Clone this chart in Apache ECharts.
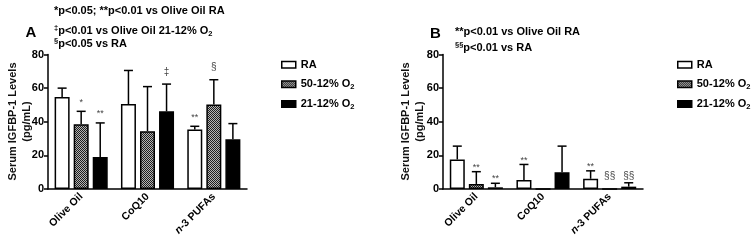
<!DOCTYPE html>
<html>
<head>
<meta charset="utf-8">
<script src="https://cdn.jsdelivr.net/npm/echarts@6/dist/echarts.min.js"></script>
<style>
html,body{margin:0;padding:0;background:#fff;}
#chart{width:753px;height:241px;}
</style>
</head>
<body>
<div id="chart"></div>
<script>
// ---------- DATA ----------
const categories = ['Olive Oil', 'CoQ10', 'n-3 PUFAs'];
const seriesNames = ['RA', '50-12% O2', '21-12% O2'];
const yTicks = [0, 20, 40, 60, 80];

// Panel A
const aRA = [54.7, 50.5, 35.4];
const aRAErr = [5.3, 20.0, 1.9];
const a50 = [38.5, 34.4, 50.2];
const a50Err = [7.7, 26.5, 14.8];
const a21 = [19.1, 46.2, 29.6];
const a21Err = [20.2, 16.2, 9.3];
const aRASig = ['', '', '**'];
const a50Sig = ['*', '', '§'];
const a21Sig = ['**', '‡', ''];

// Panel B
const bRA = [17.6, 5.3, 6.1];
const bRAErr = [7.9, 9.3, 4.7];
const b50 = [3.0, 0, 0];
const b50Err = [7.3, 0, 0];
const b21 = [1.0, 10.0, 1.4];
const b21Err = [2.4, 15.5, 2.3];
const bRASig = ['', '**', '**'];
const b50Sig = ['**', '', '§§'];
const b21Sig = ['**', '', '§§'];

// ---------- STYLE ----------
const FONT = 'Liberation Sans, Arial, sans-serif';
const BAR_W = 15;
const BAR_GAP_PX = 4.05;

function makePattern() {
  const c = document.createElement('canvas');
  c.width = 2; c.height = 2;
  const ctx = c.getContext('2d');
  ctx.fillStyle = '#b4b4b4'; ctx.fillRect(0, 0, 2, 2);
  ctx.fillStyle = '#1e1e1e'; ctx.fillRect(0, 0, 1, 1); ctx.fillRect(1, 1, 1, 1);
  return c;
}
const pattern = { image: makePattern(), repeat: 'repeat' };
const fills = ['#ffffff', pattern, '#000000'];

const chart = echarts.init(document.getElementById('chart'), null, { renderer: 'canvas' });

const grids = [
  { left: 48, top: 54.5, width: 199, height: 134.5, containLabel: false, outerBoundsMode: 'none' },
  { left: 443, top: 54.5, width: 200, height: 134.5, containLabel: false, outerBoundsMode: 'none' }
];

function xAxis(gi) {
  return {
    type: 'category', gridIndex: gi, data: categories,
    axisLine: { lineStyle: { color: '#000', width: 1.5 } },
    axisTick: { alignWithLabel: true, length: 4, lineStyle: { color: '#000', width: 1.5 } },
    axisLabel: {
      rotate: 45, margin: 6, color: '#000', fontFamily: FONT, fontWeight: 'bold', fontSize: 10.5,
      formatter: v => v.startsWith('n-') ? '{i|n}{b|' + v.slice(1) + '}' : '{b|' + v + '}',
      rich: {
        b: { fontFamily: FONT, fontWeight: 'bold', fontSize: 10.5, color: '#000' },
        i: { fontFamily: FONT, fontWeight: 'bold', fontStyle: 'italic', fontSize: 10.5, color: '#000' }
      }
    },
    splitLine: { show: false }
  };
}
function yAxis(gi) {
  return {
    type: 'value', gridIndex: gi, min: yTicks[0], max: yTicks[yTicks.length - 1],
    interval: yTicks[1] - yTicks[0],
    axisLine: { show: true, lineStyle: { color: '#000', width: 1.5 } },
    axisTick: { show: true, length: 4, lineStyle: { color: '#000', width: 1.5 } },
    axisLabel: { color: '#000', fontFamily: FONT, fontWeight: 'bold', fontSize: 11, margin: 4 },
    splitLine: { show: false }
  };
}

function barSeries(gi, name, idx, vals) {
  return {
    type: 'bar', name: name, xAxisIndex: gi, yAxisIndex: gi, data: vals,
    barWidth: BAR_W, barGap: (BAR_GAP_PX / BAR_W * 100).toFixed(1) + '%',
    itemStyle: { color: fills[idx], borderColor: '#000', borderWidth: 1.5 },
    emphasis: { disabled: true }, animation: false, z: 2
  };
}

function errSeries(gi, idx, vals, errs, sigs, sigGap) {
  const data = vals.map((v, i) => [i, v, errs[i], sigs[i]]);
  return {
    type: 'custom', xAxisIndex: gi, yAxisIndex: gi, data: data, animation: false, silent: true, z: 3,
    renderItem: function (params, api) {
      const cat = api.value(0), v = api.value(1), e = api.value(2);
      const sig = data[params.dataIndex][3];
      const off = (idx - 1) * (BAR_W + BAR_GAP_PX);
      const pBase = api.coord([cat, v]);
      const pTop = api.coord([cat, v + e]);
      const x = pBase[0] + off;
      const children = [];
      if (e > 0) {
        children.push({ type: 'line', shape: { x1: x, y1: pBase[1], x2: x, y2: pTop[1] },
          style: { stroke: '#000', lineWidth: 1.5 } });
        children.push({ type: 'line', shape: { x1: x - 4.5, y1: pTop[1], x2: x + 4.5, y2: pTop[1] },
          style: { stroke: '#000', lineWidth: 1.5 } });
      }
      if (sig) {
        const anchor = api.coord([cat, Math.max(v + e, 3.7)]);
        const isStar = sig.indexOf('*') >= 0;
        children.push({ type: 'text', x: x, y: anchor[1] - sigGap + (isStar ? 3 : 0),
          style: { text: sig, fill: '#444', font: (isStar ? 'normal 9px ' : 'normal 10px ') + FONT,
            textAlign: 'center', textVerticalAlign: 'middle' } });
      }
      return { type: 'group', children: children };
    }
  };
}

const series = [
  barSeries(0, seriesNames[0], 0, aRA), barSeries(0, seriesNames[1], 1, a50), barSeries(0, seriesNames[2], 2, a21),
  barSeries(1, seriesNames[0], 0, bRA), barSeries(1, seriesNames[1], 1, b50), barSeries(1, seriesNames[2], 2, b21),
  errSeries(0, 0, aRA, aRAErr, aRASig, 12), errSeries(0, 1, a50, a50Err, a50Sig, 12), errSeries(0, 2, a21, a21Err, a21Sig, 12),
  errSeries(1, 0, bRA, bRAErr, bRASig, 7), errSeries(1, 1, b50, b50Err, b50Sig, 7), errSeries(1, 2, b21, b21Err, b21Sig, 7)
];

const legendRich = {
  n: { fontFamily: FONT, fontWeight: 'bold', fontSize: 11, color: '#000' },
  s: { fontFamily: FONT, fontWeight: 'bold', fontSize: 7.5, color: '#000', padding: [6, 0, 0, 0] }
};
function legend(left) {
  return {
    left: left, top: 53, orient: 'vertical', itemWidth: 14, itemHeight: 6.5, itemGap: 6,
    icon: 'rect', selectedMode: false,
    data: seriesNames,
    textStyle: { fontFamily: FONT, fontWeight: 'bold', fontSize: 11, color: '#000', lineHeight: 13.5, rich: legendRich },
    formatter: n => n.endsWith('O2') ? '{n|' + n.slice(0, -1) + '}{s|2}' : '{n|' + n + '}',
    itemStyle: { borderColor: '#000', borderWidth: 1.5 }
  };
}

const noteRich = {
  n: { fontFamily: FONT, fontWeight: 'bold', fontSize: 11, color: '#111' },
  sup: { fontFamily: FONT, fontWeight: 'bold', fontSize: 7.5, color: '#111', padding: [0, 0, 6, 0] },
  sub: { fontFamily: FONT, fontWeight: 'bold', fontSize: 7.5, color: '#111', padding: [6, 0, 0, 0] }
};
function note(x, y, text) {
  return { type: 'text', x: x, y: y, style: { text: text, rich: noteRich, textVerticalAlign: 'middle' } };
}
function ytitle(x, y) {
  return { type: 'text', x: x, y: y, rotation: Math.PI / 2,
    style: { text: 'Serum IGFBP-1 Levels\n(pg/mL)', fill: '#111', font: 'bold 11px ' + FONT,
      textAlign: 'center', textVerticalAlign: 'middle', lineHeight: 14 } };
}

chart.setOption({
  animation: false,
  grid: grids,
  xAxis: [xAxis(0), xAxis(1)],
  yAxis: [yAxis(0), yAxis(1)],
  legend: [legend(276), legend(672)],
  series: series,
  graphic: [
    { type: 'text', x: 31, y: 32.5, style: { text: 'A', font: 'bold 15px ' + FONT, fill: '#000', textAlign: 'center', textVerticalAlign: 'middle' } },
    { type: 'text', x: 435.5, y: 34, style: { text: 'B', font: 'bold 15px ' + FONT, fill: '#000', textAlign: 'center', textVerticalAlign: 'middle' } },
    note(54, 10.5, '{n|*p<0.05; **p<0.01 vs Olive Oil RA}'),
    note(54, 31, '{sup|‡}{n|p<0.01 vs Olive Oil 21-12% O}{sub|2}'),
    note(54, 44, '{sup|§}{n|p<0.05 vs RA}'),
    note(455, 31.5, '{n|**p<0.01 vs Olive Oil RA}'),
    note(455, 47.5, '{sup|§§}{n|p<0.01 vs RA}'),
    ytitle(20, 121.5),
    ytitle(413, 121.5)
  ]
});
</script>
</body>
</html>
